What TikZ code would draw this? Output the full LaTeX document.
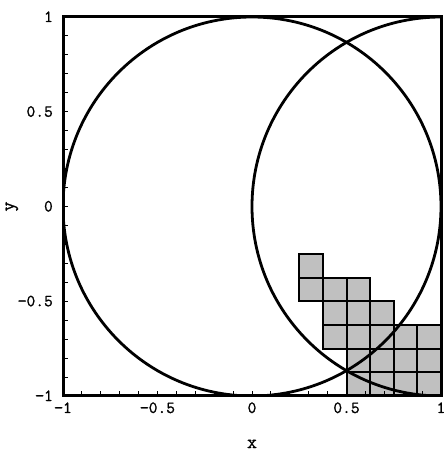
\documentclass[tikz,border=0pt]{standalone}
\usepackage{fontspec}
\newfontfamily\labfont{Latin Modern Mono}[FakeBold=1.2]
\definecolor{cellgray}{HTML}{C0C0C0}
\begin{document}
\begin{tikzpicture}
\useasboundingbox (0,0) rectangle (444pt,453pt);
\tikzset{
  cell/.style={fill=cellgray, draw=black, line width=2pt},
  curve/.style={draw=black, line width=2.8pt},
  frame/.style={draw=black, line width=3pt},
  tickmark/.style={draw=black, line width=1pt},
  lab/.style={font=\labfont\fontsize{17}{20}\selectfont, inner sep=0pt},
  axlab/.style={font=\labfont\fontsize{19}{22}\selectfont, inner sep=0pt}
}
\begin{scope}[shift={(252pt,246.5pt)}, x=189pt, y=189.5pt]
  % grey cells
  \foreach \c/\r in {0/0,0/1,
                     1/1,1/2,1/3,
                     2/1,2/2,2/3,2/4,2/5,
                     3/2,3/3,3/4,3/5,
                     4/3,4/4,4/5,
                     5/3,5/4,5/5}
    \path[cell] ({0.25+\c*0.125},{-0.25-\r*0.125}) rectangle ++(0.125,-0.125);
  % circles
  \begin{scope}
    \clip (-1,-1) rectangle (1,1);
    \path[curve] (0,0) circle[radius=1];
    \path[curve] (1,0) circle[radius=1];
  \end{scope}
  % ticks
  \foreach \i in {1,...,19} {
    \draw[tickmark] ({-1+\i/10},-1) -- ++(0,5pt);
    \draw[tickmark] (-1,{-1+\i/10}) -- ++(5pt,0);
  }
  % frame
  \path[frame] (-1,-1) rectangle (1,1);
  % x tick labels
  \node[lab, anchor=base] (xl1) at (-1,-1) [yshift=-17pt] {−1};
  \node[lab, anchor=base] (xl2) at (-0.5,-1) [yshift=-17pt] {−0.5};
  \node[lab, anchor=base] (xl3) at (0,-1) [yshift=-17pt] {0};
  \node[lab, anchor=base] (xl4) at (0.5,-1) [yshift=-17pt] {0.5};
  \node[lab, anchor=base] (xl5) at (1,-1) [yshift=-17pt] {1};
  % y tick labels
  \node[lab, anchor=base east] (yl1) at (-1,-1) [xshift=-10pt, yshift=-5pt] {−1};
  \node[lab, anchor=base east] (yl2) at (-1,-0.5) [xshift=-10pt, yshift=-5pt] {−0.5};
  \node[lab, anchor=base east] (yl3) at (-1,0) [xshift=-10pt, yshift=-5pt] {0};
  \node[lab, anchor=base east] (yl4) at (-1,0.5) [xshift=-10pt, yshift=-5pt] {0.5};
  \node[lab, anchor=base east] (yl5) at (-1,1) [xshift=-10pt, yshift=-5pt] {1};
  % axis labels
  \node[axlab, anchor=base] (xlab) at (0,-1) [yshift=-52pt] {x};
  \node[axlab, rotate=90] (ylab) at (-1.27,0) {y};
\end{scope}
\end{tikzpicture}
\end{document}
